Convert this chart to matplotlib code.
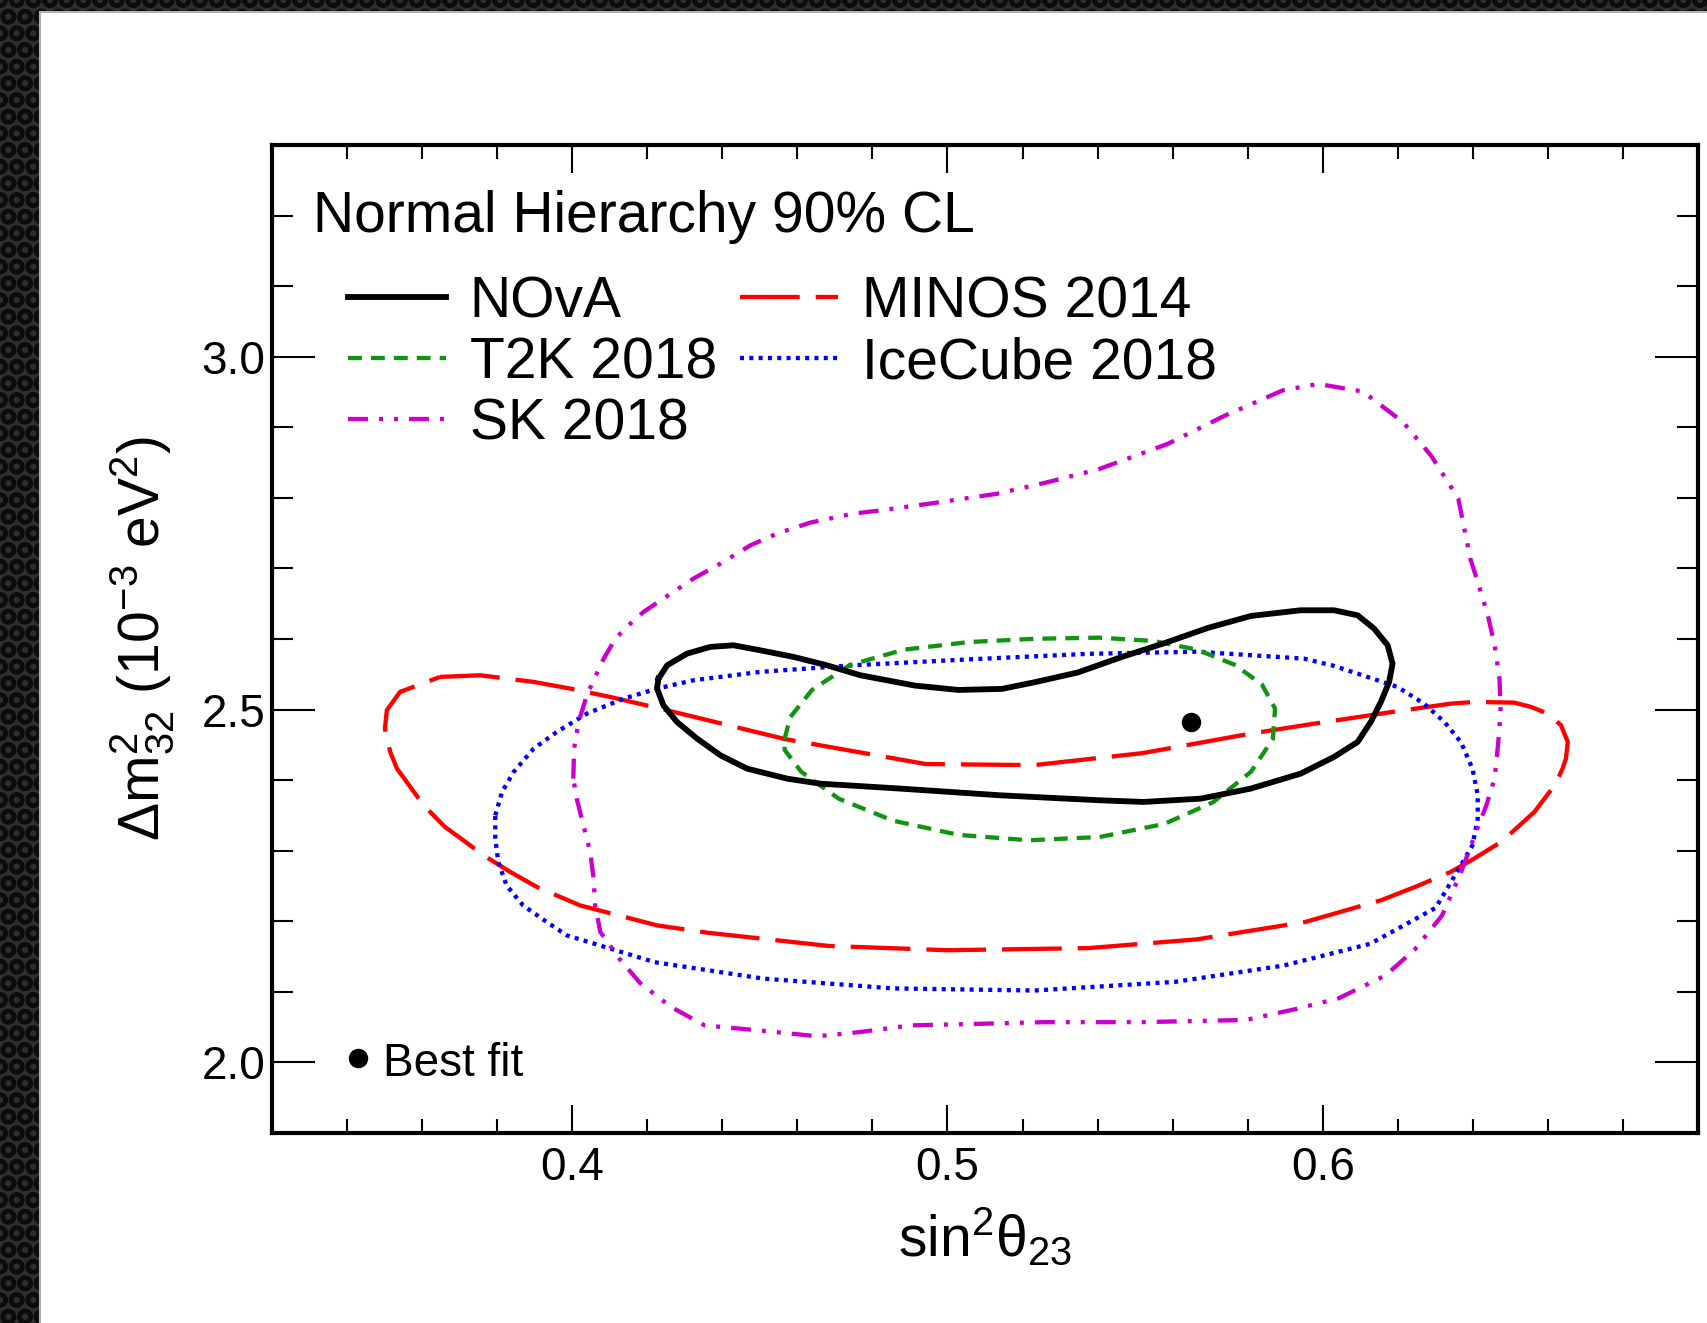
import matplotlib
matplotlib.use("Agg")
import matplotlib.pyplot as plt
from matplotlib.ticker import MultipleLocator, FormatStrFormatter, FixedLocator
from matplotlib.patches import Rectangle

plt.rcParams['font.family'] = ['Liberation Sans', 'DejaVu Sans']
plt.rcParams['mathtext.fontset'] = 'custom'
plt.rcParams['mathtext.rm'] = 'Liberation Sans'
plt.rcParams['mathtext.it'] = 'Liberation Sans:italic'
plt.rcParams['lines.scale_dashes'] = False
plt.rcParams['hatch.linewidth'] = 3.0

# ---------------- data (sin^2 theta23, dm^2_32 [1e-3 eV^2]) ----------------
nova_x = [0.4230, 0.4253, 0.4306, 0.4368, 0.4430, 0.4501, 0.4590, 0.4679, 0.4768, 0.4913,
          0.5029, 0.5145, 0.5231, 0.5347, 0.5462, 0.5578, 0.5694, 0.5809, 0.5941, 0.6030,
          0.6093, 0.6137, 0.6173, 0.6186, 0.6177, 0.6155, 0.6128, 0.6093, 0.6030, 0.5941,
          0.5808, 0.5675, 0.5523, 0.5408, 0.5141, 0.4875, 0.4661, 0.4573, 0.4466, 0.4395,
          0.4333, 0.4279, 0.4243, 0.4226]
nova_y = [2.5439, 2.5627, 2.5793, 2.5888, 2.5911, 2.5840, 2.5746, 2.5627, 2.5486, 2.5340,
          2.5278, 2.5293, 2.5386, 2.5525, 2.5741, 2.5941, 2.6157, 2.6327, 2.6407, 2.6407,
          2.6336, 2.6147, 2.5911, 2.5651, 2.5392, 2.5108, 2.4825, 2.4541, 2.4329, 2.4092,
          2.3880, 2.3738, 2.3691, 2.3714, 2.3785, 2.3880, 2.3950, 2.4021, 2.4163, 2.4352,
          2.4588, 2.4825, 2.5060, 2.5300]

t2k_x = [0.4566, 0.4581, 0.4639, 0.4740, 0.4884, 0.5058, 0.5231, 0.5405, 0.5549, 0.5665,
         0.5766, 0.5838, 0.5873, 0.5867, 0.5809, 0.5708, 0.5578, 0.5405, 0.5217, 0.5029,
         0.4855, 0.4711, 0.4610, 0.4566]
t2k_y = [2.4583, 2.4892, 2.5278, 2.5633, 2.5849, 2.5957, 2.6003, 2.6019, 2.5972, 2.5849,
         2.5633, 2.5355, 2.5015, 2.4583, 2.4120, 2.3688, 2.3380, 2.3194, 2.3148, 2.3225,
         2.3426, 2.3735, 2.4120, 2.4429]

minos_x = [0.3648, 0.3755, 0.3897, 0.3995, 0.4101, 0.4235, 0.4566, 0.4942, 0.5231, 0.5520,
           0.5809, 0.5977, 0.6186, 0.6341, 0.6403, 0.6510, 0.6555, 0.6599, 0.6635, 0.6653,
           0.6648, 0.6639, 0.6621, 0.6564, 0.6510, 0.6475, 0.6403, 0.6341, 0.6250, 0.6156,
           0.5954, 0.5665, 0.5376, 0.5000, 0.4682, 0.4364, 0.4226, 0.4021, 0.3906, 0.3835,
           0.3764, 0.3710, 0.3661, 0.3604, 0.3559, 0.3533, 0.3515, 0.3501, 0.3506, 0.3541]
minos_y = [2.5463, 2.5486, 2.5392, 2.5297, 2.5179, 2.5013, 2.4583, 2.4228, 2.4213, 2.4383,
           2.4660, 2.4800, 2.4967, 2.5084, 2.5108, 2.5099, 2.5038, 2.4943, 2.4777, 2.4541,
           2.4305, 2.4163, 2.3950, 2.3549, 2.3289, 2.3124, 2.2887, 2.2699, 2.2495, 2.2299,
           2.1991, 2.1744, 2.1620, 2.1590, 2.1651, 2.1836, 2.1942, 2.2225, 2.2486, 2.2699,
           2.2934, 2.3147, 2.3337, 2.3643, 2.3974, 2.4163, 2.4400, 2.4730, 2.4990, 2.5250]

icecube_x = [0.3795, 0.3813, 0.3844, 0.3897, 0.3959, 0.4039, 0.4137, 0.4226, 0.4323, 0.4501,
             0.4750, 0.5052, 0.5376, 0.5665, 0.5950, 0.6030, 0.6119, 0.6199, 0.6270, 0.6324,
             0.6368, 0.6399, 0.6413, 0.6413, 0.6399, 0.6368, 0.6301, 0.6127, 0.5896, 0.5607,
             0.5231, 0.4855, 0.4509, 0.4220, 0.3986, 0.3932, 0.3869, 0.3825, 0.3803, 0.3795]
icecube_y = [2.3501, 2.3833, 2.4116, 2.4446, 2.4683, 2.4943, 2.5155, 2.5297, 2.5415, 2.5534,
             2.5628, 2.5710, 2.5790, 2.5820, 2.5722, 2.5619, 2.5463, 2.5321, 2.5084, 2.4825,
             2.4541, 2.4163, 2.3785, 2.3454, 2.3076, 2.2792, 2.2191, 2.1682, 2.1373, 2.1142,
             2.1019, 2.1049, 2.1188, 2.1420, 2.1800, 2.1990, 2.2225, 2.2509, 2.2840, 2.3171]

sk_x = [0.4003, 0.4005, 0.4017, 0.4039, 0.4057, 0.4084, 0.4115, 0.4155, 0.4190, 0.4243,
        0.4323, 0.4395, 0.4475, 0.4546, 0.4635, 0.4750, 0.4824, 0.4971, 0.5130, 0.5269,
        0.5405, 0.5587, 0.5740, 0.5893, 0.5988, 0.6107, 0.6214, 0.6289, 0.6361, 0.6393,
        0.6413, 0.6440, 0.6458, 0.6471, 0.6474, 0.6467, 0.6458, 0.6436, 0.6405, 0.6369,
        0.6318, 0.6246, 0.6168, 0.6043, 0.5928, 0.5795, 0.5520, 0.5260, 0.5029, 0.4902,
        0.4769, 0.4653, 0.4509, 0.4353, 0.4263, 0.4180, 0.4124, 0.4075, 0.4061, 0.4057,
        0.4048, 0.4030, 0.4012]
sk_y = [2.4021, 2.4446, 2.4825, 2.5202, 2.5415, 2.5722, 2.6006, 2.6218, 2.6384, 2.6573,
        2.6856, 2.7069, 2.7328, 2.7494, 2.7650, 2.7777, 2.7824, 2.7932, 2.8056, 2.8225,
        2.8410, 2.8765, 2.9167, 2.9522, 2.9614, 2.9506, 2.9074, 2.8596, 2.7994, 2.7145,
        2.6809, 2.6336, 2.5911, 2.5439, 2.4967, 2.4493, 2.4021, 2.3643, 2.3218, 2.2699,
        2.2083, 2.1605, 2.1235, 2.0910, 2.0756, 2.0602, 2.0571, 2.0571, 2.0540, 2.0525,
        2.0432, 2.0370, 2.0448, 2.0525, 2.0787, 2.1130, 2.1481, 2.1848, 2.2225, 2.2604,
        2.2982, 2.3359, 2.3738]

bestfit_x = [0.565]
bestfit_y = [2.483]

legend_key_x = [0.3428]
legend_key_y = [2.0062]

x_major = [0.4, 0.5, 0.6]
y_major = [2.0, 2.5, 3.0]


def closed(xs, ys):
    return list(xs) + [xs[0]], list(ys) + [ys[0]]


# ---------------- figure ----------------
W, H = 1707, 1323
fig = plt.figure(figsize=(W / 100, H / 100), dpi=100)
fig.patch.set_facecolor('#2a2a2a')
bg = Rectangle((0, 0), 1, 1, transform=fig.transFigure, facecolor='#2e2e2e',
               edgecolor='#0c0c0c', hatch='O', lw=0, zorder=-3)
fig.patches.append(bg)
panel = Rectangle((40 / W, -0.01), 1.01, 1 - 12 / H + 0.01, transform=fig.transFigure,
                  facecolor='white', edgecolor='#b0b0b0', lw=1.5, zorder=-2)
fig.patches.append(panel)

ax = fig.add_axes([272 / W, 1 - 1133 / H, 1426 / W, 988 / H])
ax.set_zorder(1)
ax.set_facecolor('none')
ax.set_xlim(0.32, 0.70)
ax.set_ylim(1.9, 3.3)

lw_c = 3.1
mx, my = closed(minos_x, minos_y)
ax.plot(mx, my, color='#ff0000', lw=lw_c, dashes=(43, 11.5), label='MINOS 2014', zorder=3)
ix, iy = closed(icecube_x, icecube_y)
ax.plot(ix, iy, color='#0000ff', lw=lw_c, dashes=(2.9, 3.8), dash_capstyle='butt',
        label='IceCube 2018', zorder=3)
sx, sy = closed(sk_x, sk_y)
ax.plot(sx, sy, color='#cc00cc', lw=lw_c, dashes=(14.4, 7.9, 2.9, 7.9, 2.9, 7.9),
        label='SK 2018', zorder=3)
tx, ty = closed(t2k_x, t2k_y)
ax.plot(tx, ty, color='#129412', lw=lw_c, dashes=(10, 6.5), label='T2K 2018', zorder=4)
nx, ny = closed(nova_x, nova_y)
ax.plot(nx, ny, color='black', lw=4.2, solid_joinstyle='round', label='NOvA', zorder=5)

ax.plot(bestfit_x, bestfit_y, 'o', color='black', ms=13, zorder=6)
ax.plot(legend_key_x, legend_key_y, 'o', color='black', ms=13, zorder=6, clip_on=False)
ax.text(0.3497, 1.981, 'Best fit', fontsize=33, va='baseline', ha='left')

# legend
h, l = ax.get_legend_handles_labels()
order = ['NOvA', 'T2K 2018', 'SK 2018', 'MINOS 2014', 'IceCube 2018']
hd = dict(zip(l, h))
leg = ax.legend([hd[k] for k in order], order, ncol=2, frameon=False, fontsize=41,
                loc='upper left', bbox_to_anchor=(0.0533, 0.868), borderpad=0,
                borderaxespad=0, handlelength=1.72, handletextpad=0.42,
                columnspacing=0.40, labelspacing=0.12)

ax.text(0.0291, 0.912, 'Normal Hierarchy 90% CL', transform=ax.transAxes,
        fontsize=41, ha='left', va='baseline')

# axes styling
for s in ax.spines.values():
    s.set_linewidth(3.0)
ax.xaxis.set_major_locator(FixedLocator(x_major))
ax.xaxis.set_minor_locator(MultipleLocator(0.02))
ax.yaxis.set_major_locator(FixedLocator(y_major))
ax.yaxis.set_minor_locator(MultipleLocator(0.1))
ax.xaxis.set_major_formatter(FormatStrFormatter('%.1f'))
ax.yaxis.set_major_formatter(FormatStrFormatter('%.1f'))
ax.tick_params(which='both', direction='in', top=True, right=True, width=1.5,
               labelsize=33, color='black')
ax.tick_params(axis='x', which='major', length=20, pad=9)
ax.tick_params(axis='x', which='minor', length=10)
ax.tick_params(axis='y', which='major', length=31, pad=5)
ax.tick_params(axis='y', which='minor', length=15)

ax.set_xlabel('sin$^{2}$θ$_{23}$', fontsize=41, labelpad=12)
ax.set_ylabel('Δm$^{2}_{32}$ (10$^{-3}$ eV$^{2}$)', fontsize=41, labelpad=18)

fig.savefig('out.png', dpi=100)
